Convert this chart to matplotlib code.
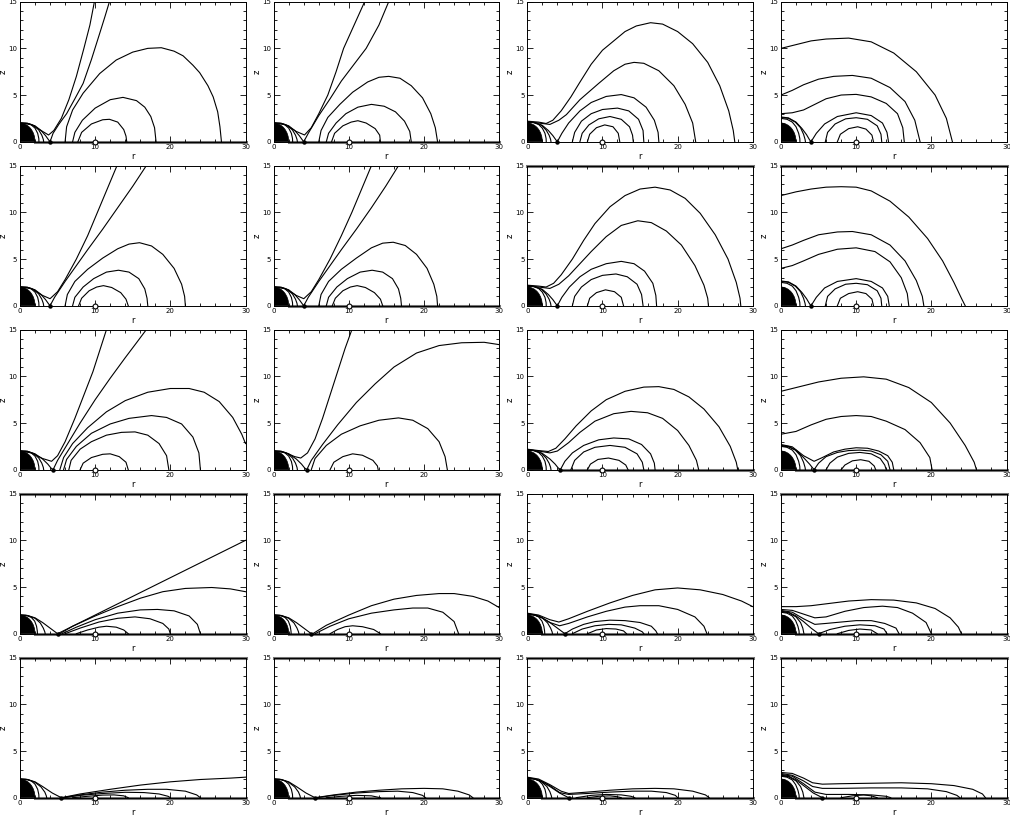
import matplotlib
matplotlib.use("Agg")
import matplotlib.pyplot as plt
from matplotlib.patches import Wedge
from matplotlib.ticker import MultipleLocator

star_radius = 2.0
torus_r = 10.0
xpoint_r = [4.0, 4.0, 4.4, 5.0, 5.5]  # one per row

# field lines: each panel is a list of lines, each line a list of (r, z) points
p11 = [
    [(0, 2.0), (0.8, 1.97), (1.5, 1.8), (2.0, 1.45), (2.35, 0.9), (2.5, 0.35), (2.52, 0)],
    [(0, 2.0), (1.0, 1.97), (1.9, 1.7), (2.5, 1.25), (2.9, 0.7), (3.1, 0.25), (3.15, 0)],
    [(0, 2.0), (1.0, 1.97), (2.0, 1.7), (2.8, 1.2), (3.4, 0.65), (3.8, 0.2), (4.0, 0)],
    [(0, 2.0), (1.5, 1.85), (2.8, 1.2), (3.8, 0.72), (4.5, 1.2), (5.5, 2.5), (6.5, 4.5), (7.5, 7.0), (8.5, 10.0), (9.3, 12.5), (9.9, 15)],
    [(4.0, 0), (4.4, 0.9), (5.2, 1.9), (6.2, 3.0), (7.3, 4.6), (8.4, 6.25), (9.5, 8.8), (10.6, 11.6), (11.3, 13.4), (11.9, 15)],
    [(6.0, 0), (6.2, 1.6), (7.0, 3.4), (8.4, 5.2), (10.6, 7.3), (12.8, 8.75), (15.0, 9.6), (17.0, 10.0), (18.8, 10.07), (20.5, 9.7), (21.7, 9.2), (23.0, 8.2), (23.9, 7.4), (25.0, 6.0), (25.7, 4.8), (26.3, 3.2), (26.6, 1.6), (26.8, 0)],
    [(7.0, 0), (7.3, 1.0), (8.3, 2.3), (10.0, 3.6), (12.0, 4.5), (13.7, 4.75), (15.5, 4.4), (16.6, 3.7), (17.4, 2.7), (17.9, 1.5), (18.1, 0)],
    [(7.7, 0), (8.2, 1.0), (9.5, 1.9), (11.0, 2.35), (11.9, 2.4), (13.0, 2.1), (13.8, 1.3), (14.1, 0.6), (14.2, 0)],
]
p12 = [
    [(0, 2.0), (0.8, 1.97), (1.5, 1.8), (2.0, 1.45), (2.35, 0.9), (2.5, 0.35), (2.52, 0)],
    [(0, 2.0), (1.0, 1.97), (1.9, 1.7), (2.5, 1.25), (2.9, 0.7), (3.1, 0.25), (3.15, 0)],
    [(0, 2.0), (1.0, 1.97), (2.0, 1.7), (2.8, 1.2), (3.4, 0.65), (3.8, 0.2), (4.0, 0)],
    [(0, 2.0), (1.5, 1.85), (3.0, 1.1), (4.1, 0.72), (5.0, 1.5), (6.0, 3.0), (7.2, 5.0), (8.3, 7.5), (9.3, 10.0), (10.7, 12.5), (12.1, 15)],
    [(4.0, 0), (4.6, 0.9), (6.0, 2.8), (7.5, 4.6), (9.0, 6.5), (10.6, 8.2), (12.3, 10.0), (14.0, 12.5), (15.3, 15)],
    [(6.0, 0), (6.3, 1.2), (7.2, 2.6), (8.8, 4.0), (10.5, 5.3), (12.5, 6.4), (14.0, 6.9), (15.3, 7.0), (16.8, 6.8), (18.3, 6.0), (19.8, 4.7), (20.9, 3.0), (21.5, 1.5), (21.8, 0)],
    [(7.0, 0), (7.3, 0.9), (8.3, 2.0), (9.6, 3.0), (11.2, 3.7), (13.0, 4.0), (14.7, 3.8), (16.2, 3.2), (17.4, 2.2), (18.1, 1.1), (18.3, 0)],
    [(7.7, 0), (8.1, 0.9), (9.2, 1.7), (10.3, 2.1), (11.2, 2.25), (12.3, 2.0), (13.5, 1.4), (14.1, 0.7), (14.2, 0)],
]
p13 = [
    [(0, 2.1), (0.8, 2.05), (1.5, 1.85), (2.0, 1.45), (2.35, 0.9), (2.5, 0.35), (2.52, 0)],
    [(0, 2.1), (1.0, 2.05), (1.9, 1.75), (2.5, 1.25), (2.9, 0.7), (3.1, 0.25), (3.15, 0)],
    [(0, 2.1), (1.0, 2.05), (2.0, 1.75), (2.8, 1.2), (3.4, 0.65), (3.8, 0.2), (4.0, 0)],
    [(0, 2.2), (1.5, 2.1), (2.5, 1.95), (3.4, 2.3), (4.5, 3.3), (5.8, 4.8), (6.9, 6.25), (8.5, 8.3), (10.0, 9.8), (11.2, 10.6), (13.0, 11.8), (14.5, 12.4), (16.4, 12.75), (18.0, 12.6), (20.0, 11.8), (22.0, 10.5), (24.0, 8.5), (25.6, 6.0), (26.8, 3.3), (27.4, 1.2), (27.6, 0)],
    [(0, 2.15), (1.5, 2.0), (3.0, 1.85), (4.2, 2.3), (5.2, 2.9), (7.0, 4.5), (9.5, 6.25), (11.5, 7.6), (13.0, 8.3), (14.2, 8.5), (15.5, 8.4), (17.5, 7.6), (19.5, 6.0), (21.0, 4.0), (22.0, 2.0), (22.4, 0)],
    [(4.0, 0), (4.6, 0.9), (5.5, 2.0), (7.0, 3.3), (8.5, 4.2), (10.5, 4.85), (12.5, 5.05), (14.2, 4.7), (15.8, 3.7), (16.9, 2.3), (17.4, 1.0), (17.5, 0)],
    [(6.0, 0), (6.3, 1.0), (7.2, 2.2), (8.5, 3.0), (10.0, 3.45), (12.0, 3.6), (13.5, 3.3), (14.8, 2.4), (15.4, 1.2), (15.5, 0)],
    [(7.0, 0), (7.3, 0.9), (8.2, 1.8), (9.5, 2.45), (11.0, 2.7), (12.5, 2.4), (13.6, 1.6), (14.0, 0.7), (14.1, 0)],
    [(8.0, 0), (8.3, 0.8), (9.2, 1.5), (10.3, 1.8), (11.4, 1.6), (12.1, 0.9), (12.3, 0)],
]
p14 = [
    [(0, 2.5), (0.8, 2.4), (1.5, 2.1), (2.0, 1.6), (2.35, 0.9), (2.5, 0.35), (2.52, 0)],
    [(0, 2.6), (1.0, 2.5), (1.9, 2.1), (2.6, 1.5), (3.0, 0.8), (3.2, 0.25), (3.25, 0)],
    [(0, 2.65), (1.0, 2.55), (2.0, 2.1), (2.8, 1.4), (3.4, 0.75), (3.8, 0.2), (4.0, 0)],
    [(0, 10.0), (2.0, 10.4), (4.0, 10.8), (6.0, 11.0), (9.0, 11.1), (12.0, 10.7), (15.0, 9.5), (18.0, 7.5), (20.5, 5.0), (22.0, 2.5), (22.8, 0)],
    [(0, 5.0), (1.5, 5.5), (3.0, 6.1), (5.0, 6.7), (7.0, 7.0), (9.5, 7.1), (12.0, 6.8), (14.5, 5.8), (16.5, 4.3), (17.8, 2.3), (18.5, 0)],
    [(0, 3.0), (1.5, 3.1), (3.0, 3.4), (4.5, 4.0), (6.0, 4.6), (8.0, 5.0), (10.0, 5.07), (12.0, 4.8), (14.0, 4.1), (15.5, 3.0), (16.2, 1.5), (16.4, 0)],
    [(4.0, 0), (4.7, 0.9), (5.8, 1.9), (7.5, 2.7), (10.0, 3.1), (12.0, 2.8), (13.5, 2.0), (14.1, 1.0), (14.3, 0)],
    [(5.9, 0), (6.2, 1.0), (7.2, 1.9), (8.6, 2.45), (10.0, 2.57), (11.5, 2.4), (12.8, 1.7), (13.3, 0.8), (13.4, 0)],
    [(7.5, 0), (7.9, 0.8), (9.0, 1.4), (10.2, 1.6), (11.3, 1.35), (12.1, 0.7), (12.3, 0)],
]
p21 = [
    [(0, 2.0), (0.8, 1.97), (1.5, 1.8), (2.0, 1.45), (2.35, 0.9), (2.5, 0.35), (2.52, 0)],
    [(0, 2.0), (1.0, 1.97), (1.9, 1.7), (2.5, 1.25), (2.9, 0.7), (3.1, 0.25), (3.15, 0)],
    [(0, 2.0), (1.0, 1.97), (2.0, 1.7), (2.8, 1.2), (3.4, 0.65), (3.8, 0.2), (4.0, 0)],
    [(0, 2.0), (1.5, 1.85), (3.0, 1.1), (4.0, 0.75), (5.0, 1.5), (6.0, 2.8), (7.5, 5.0), (9.0, 7.5), (10.3, 10.0), (11.6, 12.5), (12.9, 15)],
    [(4.0, 0), (4.6, 0.9), (6.0, 2.6), (7.5, 4.3), (9.0, 6.0), (11.0, 8.2), (13.0, 10.5), (15.0, 12.8), (16.8, 15)],
    [(6.0, 0), (6.3, 1.2), (7.3, 2.6), (9.0, 3.9), (11.0, 5.1), (13.0, 6.1), (14.5, 6.6), (15.9, 6.75), (17.5, 6.4), (19.0, 5.5), (20.5, 4.0), (21.5, 2.3), (21.9, 1.0), (22.0, 0)],
    [(7.0, 0), (7.3, 0.9), (8.4, 2.0), (9.8, 2.9), (11.5, 3.6), (13.1, 3.8), (14.5, 3.6), (15.8, 2.9), (16.6, 1.8), (16.9, 0.8), (17.0, 0)],
    [(7.8, 0), (8.2, 0.8), (9.2, 1.6), (10.2, 2.0), (11.1, 2.15), (12.2, 1.95), (13.4, 1.4), (14.1, 0.7), (14.4, 0)],
]
p22 = [
    [(0, 2.0), (0.8, 1.97), (1.5, 1.8), (2.0, 1.45), (2.35, 0.9), (2.5, 0.35), (2.52, 0)],
    [(0, 2.0), (1.0, 1.97), (1.9, 1.7), (2.5, 1.25), (2.9, 0.7), (3.1, 0.25), (3.15, 0)],
    [(0, 2.0), (1.0, 1.97), (2.0, 1.7), (2.8, 1.2), (3.4, 0.65), (3.8, 0.2), (4.0, 0)],
    [(0, 2.0), (1.5, 1.85), (3.0, 1.1), (4.0, 0.75), (5.0, 1.5), (6.0, 2.8), (7.5, 5.0), (9.0, 7.5), (10.4, 10.0), (11.7, 12.5), (13.0, 15)],
    [(4.0, 0), (4.6, 0.9), (6.0, 2.6), (7.5, 4.3), (9.0, 6.0), (11.0, 8.2), (13.0, 10.5), (14.9, 12.8), (16.6, 15)],
    [(6.0, 0), (6.3, 1.2), (7.3, 2.6), (9.0, 3.9), (11.0, 5.1), (13.0, 6.2), (14.5, 6.7), (15.9, 6.8), (17.5, 6.45), (19.0, 5.5), (20.4, 4.0), (21.3, 2.3), (21.7, 1.0), (21.8, 0)],
    [(7.0, 0), (7.3, 0.9), (8.4, 2.0), (9.8, 2.9), (11.5, 3.6), (13.1, 3.8), (14.5, 3.6), (15.8, 2.9), (16.6, 1.8), (16.9, 0.8), (17.0, 0)],
    [(7.8, 0), (8.2, 0.8), (9.2, 1.6), (10.2, 2.0), (11.1, 2.15), (12.2, 1.95), (13.4, 1.4), (14.2, 0.7), (14.5, 0)],
]
p23 = [
    [(0, 2.1), (0.8, 2.05), (1.5, 1.85), (2.0, 1.45), (2.35, 0.9), (2.5, 0.35), (2.52, 0)],
    [(0, 2.1), (1.0, 2.05), (1.9, 1.75), (2.5, 1.25), (2.9, 0.7), (3.1, 0.25), (3.15, 0)],
    [(0, 2.1), (1.0, 2.05), (2.0, 1.75), (2.8, 1.2), (3.4, 0.65), (3.8, 0.2), (4.0, 0)],
    [(0, 2.2), (1.5, 2.1), (2.5, 2.0), (3.5, 2.4), (4.5, 3.3), (6.0, 5.0), (7.5, 7.0), (9.0, 8.8), (11.0, 10.6), (13.0, 11.8), (15.0, 12.5), (17.0, 12.7), (19.0, 12.4), (21.0, 11.5), (23.0, 9.9), (25.0, 7.6), (26.7, 5.0), (27.8, 2.5), (28.3, 0.8), (28.4, 0)],
    [(0, 2.15), (1.5, 2.0), (3.0, 1.85), (4.2, 2.3), (5.5, 3.2), (7.0, 4.5), (8.5, 5.8), (10.5, 7.4), (12.5, 8.6), (14.7, 9.1), (16.5, 8.9), (18.5, 8.0), (20.5, 6.5), (22.3, 4.3), (23.5, 2.2), (24.0, 0.8), (24.1, 0)],
    [(4.0, 0), (4.6, 0.9), (5.6, 2.0), (7.0, 3.1), (8.5, 3.9), (10.5, 4.5), (12.5, 4.75), (14.2, 4.5), (15.6, 3.7), (16.7, 2.4), (17.1, 1.1), (17.2, 0)],
    [(6.0, 0), (6.3, 1.0), (7.2, 2.0), (8.5, 2.8), (10.0, 3.25), (11.8, 3.4), (13.3, 3.1), (14.6, 2.3), (15.2, 1.2), (15.4, 0)],
    [(8.0, 0), (8.3, 0.8), (9.2, 1.4), (10.4, 1.7), (11.6, 1.5), (12.5, 0.9), (12.8, 0)],
]
p24 = [
    [(0, 2.5), (0.8, 2.4), (1.5, 2.1), (2.0, 1.6), (2.35, 0.9), (2.5, 0.35), (2.52, 0)],
    [(0, 2.6), (1.0, 2.5), (1.9, 2.1), (2.6, 1.5), (3.0, 0.8), (3.2, 0.25), (3.25, 0)],
    [(0, 2.65), (1.0, 2.55), (2.0, 2.1), (2.8, 1.4), (3.4, 0.75), (3.8, 0.2), (4.0, 0)],
    [(0, 11.8), (2.0, 12.2), (4.0, 12.5), (6.0, 12.7), (8.0, 12.75), (10.0, 12.7), (12.0, 12.3), (14.5, 11.2), (17.0, 9.5), (19.5, 7.2), (21.5, 4.8), (23.0, 2.5), (24.0, 0.8), (24.5, 0)],
    [(0, 6.1), (1.5, 6.5), (3.0, 7.0), (5.0, 7.6), (7.5, 7.9), (9.5, 7.95), (12.0, 7.6), (14.5, 6.5), (16.5, 4.8), (18.0, 2.7), (18.8, 1.0), (19.0, 0)],
    [(0, 4.0), (1.5, 4.3), (3.0, 4.8), (5.0, 5.5), (7.5, 6.05), (10.0, 6.2), (12.5, 5.8), (14.5, 4.7), (16.0, 3.0), (16.8, 1.3), (17.0, 0)],
    [(4.0, 0), (4.7, 0.9), (5.8, 1.9), (7.5, 2.6), (10.0, 2.9), (12.0, 2.6), (13.5, 1.9), (14.2, 1.0), (14.4, 0)],
    [(5.9, 0), (6.2, 1.0), (7.2, 1.8), (8.6, 2.3), (10.0, 2.4), (11.5, 2.25), (12.8, 1.6), (13.3, 0.8), (13.4, 0)],
    [(7.5, 0), (7.9, 0.8), (9.0, 1.3), (10.2, 1.5), (11.3, 1.3), (12.1, 0.7), (12.3, 0)],
]
p31 = [
    [(0, 2.0), (0.8, 1.97), (1.5, 1.8), (2.0, 1.45), (2.35, 0.9), (2.5, 0.35), (2.52, 0)],
    [(0, 2.0), (1.0, 1.97), (1.9, 1.7), (2.5, 1.25), (2.9, 0.7), (3.1, 0.25), (3.15, 0)],
    [(0, 2.0), (1.0, 1.97), (2.0, 1.7), (3.0, 1.15), (3.7, 0.6), (4.1, 0.2), (4.4, 0)],
    [(0, 2.0), (1.5, 1.8), (3.0, 1.2), (4.2, 0.9), (5.0, 1.5), (6.0, 3.0), (7.3, 5.5), (8.5, 8.0), (9.7, 10.5), (10.7, 13.0), (11.5, 15)],
    [(4.4, 0), (5.0, 1.0), (6.5, 3.0), (8.0, 5.0), (10.0, 7.5), (12.0, 9.8), (14.0, 12.0), (15.5, 13.6), (16.8, 15)],
    [(5.3, 0), (5.8, 1.3), (7.0, 2.8), (9.0, 4.5), (11.5, 6.2), (14.0, 7.4), (17.0, 8.3), (20.0, 8.7), (22.5, 8.7), (24.5, 8.3), (26.5, 7.3), (28.3, 5.6), (29.5, 3.8), (30.0, 2.8)],
    [(5.8, 0), (6.2, 1.1), (7.5, 2.5), (9.5, 3.9), (12.0, 4.9), (14.5, 5.5), (17.5, 5.8), (19.5, 5.6), (21.5, 4.9), (23.0, 3.5), (23.8, 1.8), (24.0, 0)],
    [(6.5, 0), (6.8, 1.0), (8.0, 2.2), (9.5, 3.0), (11.5, 3.7), (13.5, 4.0), (15.3, 4.05), (17.0, 3.7), (18.5, 2.8), (19.5, 1.5), (19.8, 0)],
    [(8.0, 0), (8.4, 0.7), (9.5, 1.3), (11.0, 1.65), (12.0, 1.7), (13.2, 1.4), (14.1, 0.8), (14.4, 0)],
]
p32 = [
    [(0, 2.0), (0.8, 1.97), (1.5, 1.8), (2.0, 1.45), (2.35, 0.9), (2.5, 0.35), (2.52, 0)],
    [(0, 2.0), (1.0, 1.97), (1.9, 1.7), (2.5, 1.25), (2.9, 0.7), (3.1, 0.25), (3.15, 0)],
    [(0, 2.0), (1.0, 1.97), (2.0, 1.7), (3.0, 1.15), (3.7, 0.6), (4.1, 0.2), (4.4, 0)],
    [(0, 2.0), (1.5, 1.85), (2.8, 1.4), (3.6, 1.25), (4.5, 1.8), (5.5, 3.3), (6.5, 5.5), (7.5, 8.0), (8.5, 10.5), (9.5, 13.0), (10.4, 15)],
    [(4.4, 0), (5.0, 1.0), (6.5, 2.7), (8.5, 4.8), (11.0, 7.2), (13.5, 9.2), (16.0, 11.0), (19.0, 12.5), (22.0, 13.3), (25.0, 13.6), (28.0, 13.65), (30.0, 13.4)],
    [(5.0, 0), (5.5, 1.2), (7.0, 2.6), (9.0, 3.8), (11.5, 4.7), (14.0, 5.3), (16.6, 5.55), (18.5, 5.3), (20.5, 4.4), (22.0, 3.0), (22.8, 1.4), (23.1, 0)],
    [(7.5, 0), (8.0, 0.8), (9.2, 1.4), (10.5, 1.7), (11.8, 1.55), (13.2, 1.0), (13.8, 0.4), (13.9, 0)],
]
p33 = [
    [(0, 2.1), (0.8, 2.05), (1.5, 1.85), (2.0, 1.45), (2.35, 0.9), (2.5, 0.35), (2.52, 0)],
    [(0, 2.1), (1.0, 2.05), (1.9, 1.75), (2.5, 1.25), (2.9, 0.7), (3.1, 0.25), (3.15, 0)],
    [(0, 2.1), (1.0, 2.05), (2.0, 1.75), (3.0, 1.15), (3.7, 0.6), (4.1, 0.2), (4.4, 0)],
    [(0, 2.2), (1.5, 2.05), (2.8, 1.95), (3.8, 2.3), (5.0, 3.3), (6.5, 4.7), (8.5, 6.3), (10.5, 7.5), (13.0, 8.4), (15.5, 8.85), (17.5, 8.9), (19.5, 8.6), (21.5, 7.8), (23.5, 6.5), (25.5, 4.6), (27.0, 2.5), (27.8, 0.8), (28.0, 0)],
    [(0, 2.15), (1.5, 2.0), (3.0, 1.8), (4.0, 2.0), (5.5, 2.9), (7.0, 4.0), (9.0, 5.2), (11.5, 6.0), (13.8, 6.25), (16.0, 6.1), (18.0, 5.5), (20.0, 4.2), (21.5, 2.6), (22.5, 1.0), (22.8, 0)],
    [(4.4, 0), (5.0, 0.9), (6.0, 1.8), (7.5, 2.6), (9.5, 3.2), (11.5, 3.4), (13.5, 3.3), (15.2, 2.7), (16.4, 1.7), (16.9, 0.7), (17.0, 0)],
    [(5.8, 0), (6.3, 1.0), (7.5, 1.9), (9.0, 2.4), (11.0, 2.6), (13.0, 2.4), (14.6, 1.7), (15.3, 0.8), (15.5, 0)],
    [(8.0, 0), (8.4, 0.6), (9.4, 1.1), (10.8, 1.25), (12.2, 1.0), (13.1, 0.5), (13.4, 0)],
]
p34 = [
    [(0, 2.5), (0.8, 2.4), (1.5, 2.1), (2.0, 1.6), (2.35, 0.9), (2.5, 0.35), (2.52, 0)],
    [(0, 2.55), (1.0, 2.45), (1.9, 2.1), (2.6, 1.5), (3.0, 0.8), (3.2, 0.25), (3.25, 0)],
    [(0, 2.6), (1.0, 2.5), (2.0, 2.1), (3.0, 1.3), (3.8, 0.6), (4.2, 0.2), (4.4, 0)],
    [(0, 8.4), (2.0, 8.8), (5.0, 9.4), (8.0, 9.8), (11.0, 9.95), (14.0, 9.7), (17.0, 8.8), (20.0, 7.2), (22.5, 5.0), (24.5, 2.6), (25.7, 0.8), (26.0, 0)],
    [(0, 3.8), (2.0, 4.1), (4.0, 4.8), (6.0, 5.4), (8.0, 5.7), (10.0, 5.8), (12.0, 5.7), (14.0, 5.2), (16.5, 4.3), (18.5, 2.9), (19.8, 1.3), (20.1, 0)],
    [(0, 2.7), (1.5, 2.45), (3.0, 1.5), (4.4, 0.9), (5.5, 1.3), (7.0, 1.9), (8.5, 2.2), (10.0, 2.35), (11.5, 2.3), (13.0, 2.0), (14.2, 1.5), (14.8, 0.8), (15.0, 0)],
    [(4.4, 0), (5.0, 0.7), (6.0, 1.4), (7.5, 1.85), (9.0, 2.05), (10.5, 2.1), (12.0, 2.0), (13.3, 1.6), (14.2, 0.9), (14.5, 0)],
    [(6.0, 0), (6.5, 0.7), (7.5, 1.35), (9.0, 1.75), (10.5, 1.85), (12.0, 1.7), (13.2, 1.2), (13.8, 0.5), (14.0, 0)],
    [(8.0, 0), (8.5, 0.5), (9.5, 0.95), (10.6, 1.07), (11.7, 0.9), (12.4, 0.4), (12.6, 0)],
]
p41 = [
    [(0, 2.0), (0.8, 1.97), (1.5, 1.75), (1.95, 1.35), (2.2, 0.8), (2.3, 0.3), (2.32, 0)],
    [(0, 2.0), (1.0, 1.95), (2.0, 1.65), (2.7, 1.15), (3.1, 0.6), (3.3, 0.2), (3.35, 0)],
    [(0, 2.0), (1.0, 1.95), (2.0, 1.7), (3.0, 1.2), (4.0, 0.6), (5.0, 0)],
    [(5.0, 0), (30.0, 10.0)],
    [(5.3, 0), (7.0, 0.8), (10.0, 1.9), (13.0, 2.9), (16.0, 3.8), (19.0, 4.5), (22.0, 4.85), (25.5, 4.95), (28.0, 4.8), (30.0, 4.5)],
    [(5.6, 0), (7.5, 0.7), (10.0, 1.5), (13.0, 2.2), (16.0, 2.55), (18.3, 2.6), (20.5, 2.45), (22.5, 1.9), (23.6, 1.0), (24.0, 0)],
    [(6.0, 0), (8.0, 0.6), (10.5, 1.25), (13.0, 1.65), (15.3, 1.8), (17.3, 1.6), (19.0, 1.1), (19.8, 0.5), (20.0, 0)],
    [(7.5, 0), (9.0, 0.4), (10.5, 0.7), (11.5, 0.8), (12.8, 0.7), (13.8, 0.4), (14.4, 0)],
]
p42 = [
    [(0, 2.0), (0.8, 1.97), (1.5, 1.75), (1.95, 1.35), (2.2, 0.8), (2.3, 0.3), (2.32, 0)],
    [(0, 2.0), (1.0, 1.95), (2.0, 1.65), (2.7, 1.15), (3.1, 0.6), (3.3, 0.2), (3.35, 0)],
    [(0, 2.0), (1.0, 1.95), (2.0, 1.7), (3.0, 1.2), (4.0, 0.6), (5.0, 0)],
    [(5.2, 0), (7.0, 0.9), (10.0, 2.0), (13.0, 3.0), (16.0, 3.7), (19.0, 4.1), (22.0, 4.3), (24.0, 4.3), (26.5, 4.0), (28.5, 3.5), (30.0, 2.8)],
    [(5.5, 0), (7.5, 0.8), (10.0, 1.6), (13.0, 2.2), (16.0, 2.55), (18.5, 2.75), (20.5, 2.75), (22.5, 2.3), (24.0, 1.3), (24.6, 0)],
    [(7.5, 0), (8.5, 0.45), (9.5, 0.75), (10.5, 0.85), (11.8, 0.75), (13.3, 0.45), (14.2, 0)],
]
p43 = [
    [(0, 2.1), (0.8, 2.05), (1.5, 1.8), (1.95, 1.35), (2.2, 0.8), (2.3, 0.3), (2.32, 0)],
    [(0, 2.1), (1.0, 2.0), (2.0, 1.7), (2.7, 1.15), (3.1, 0.6), (3.3, 0.2), (3.35, 0)],
    [(0, 2.1), (1.0, 2.0), (2.0, 1.7), (3.0, 1.2), (4.0, 0.6), (5.0, 0)],
    [(0, 2.2), (1.5, 2.0), (3.0, 1.5), (4.2, 1.25), (5.5, 1.6), (8.0, 2.4), (11.0, 3.3), (14.0, 4.1), (17.0, 4.7), (20.0, 4.9), (23.0, 4.7), (26.0, 4.2), (28.5, 3.5), (30.0, 2.9)],
    [(0, 2.15), (1.5, 1.9), (3.0, 1.2), (4.3, 0.85), (5.5, 1.1), (8.0, 1.8), (10.5, 2.4), (13.0, 2.85), (15.0, 3.0), (17.5, 3.0), (20.0, 2.6), (22.3, 1.8), (23.5, 0.8), (23.9, 0)],
    [(5.0, 0), (6.0, 0.5), (7.5, 1.0), (9.0, 1.3), (11.0, 1.45), (13.0, 1.4), (15.0, 1.2), (16.5, 0.8), (17.1, 0.3), (17.3, 0)],
    [(6.0, 0), (7.3, 0.5), (9.0, 0.85), (10.8, 1.0), (12.5, 0.95), (14.3, 0.6), (15.3, 0.2), (15.5, 0)],
    [(8.0, 0), (9.2, 0.4), (10.5, 0.55), (11.8, 0.5), (12.8, 0.3), (13.2, 0)],
]
p44 = [
    [(0, 2.3), (0.8, 2.2), (1.5, 1.9), (1.95, 1.4), (2.25, 0.8), (2.4, 0.3), (2.42, 0)],
    [(0, 2.35), (1.0, 2.25), (2.0, 1.8), (2.6, 1.2), (2.9, 0.6), (3.0, 0.2), (3.05, 0)],
    [(0, 2.4), (1.0, 2.3), (2.0, 1.9), (3.0, 1.3), (4.0, 0.6), (5.0, 0)],
    [(0, 2.9), (2.0, 2.9), (4.0, 3.0), (6.0, 3.2), (9.0, 3.5), (12.0, 3.65), (15.0, 3.6), (18.0, 3.3), (20.5, 2.7), (22.5, 1.7), (23.6, 0.7), (24.0, 0)],
    [(0, 2.6), (1.5, 2.5), (3.0, 2.1), (4.5, 1.7), (6.0, 1.8), (8.5, 2.4), (11.0, 2.8), (13.5, 2.95), (15.5, 2.8), (17.5, 2.2), (19.3, 1.2), (20.0, 0)],
    [(0, 2.5), (1.5, 2.3), (3.0, 1.6), (4.5, 1.0), (6.0, 1.1), (8.0, 1.25), (10.0, 1.4), (12.0, 1.4), (13.8, 1.1), (15.3, 0.6), (15.7, 0)],
    [(5.0, 0), (6.5, 0.45), (8.5, 0.8), (10.5, 0.95), (12.5, 0.85), (13.7, 0.5), (14.1, 0)],
    [(7.5, 0), (9.0, 0.35), (10.5, 0.5), (12.0, 0.4), (12.8, 0)],
]
p51 = [
    [(0, 2.0), (0.8, 1.97), (1.5, 1.8), (2.0, 1.45), (2.35, 0.9), (2.5, 0.35), (2.52, 0)],
    [(0, 2.0), (1.0, 1.95), (2.0, 1.65), (2.8, 1.15), (3.3, 0.6), (3.5, 0.2), (3.55, 0)],
    [(0, 2.0), (1.0, 1.95), (2.0, 1.7), (3.0, 1.2), (4.3, 0.5), (5.5, 0)],
    [(5.5, 0), (8.0, 0.4), (12.0, 0.9), (16.0, 1.35), (20.0, 1.7), (24.0, 1.95), (28.0, 2.1), (30.0, 2.2)],
    [(5.6, 0), (8.0, 0.3), (11.0, 0.6), (14.0, 0.8), (17.0, 0.9), (19.5, 0.9), (22.0, 0.7), (23.5, 0.3), (24.0, 0)],
    [(5.8, 0), (8.0, 0.25), (11.0, 0.45), (14.0, 0.58), (16.5, 0.55), (18.5, 0.4), (19.7, 0.15), (20.0, 0)],
    [(7.0, 0), (9.0, 0.15), (11.0, 0.28), (12.5, 0.3), (13.8, 0.2), (14.4, 0)],
]
p52 = [
    [(0, 2.0), (0.8, 1.97), (1.5, 1.8), (2.0, 1.45), (2.35, 0.9), (2.5, 0.35), (2.52, 0)],
    [(0, 2.0), (1.0, 1.95), (2.0, 1.65), (2.8, 1.15), (3.3, 0.6), (3.5, 0.2), (3.55, 0)],
    [(0, 2.0), (1.0, 1.95), (2.0, 1.7), (3.0, 1.2), (4.3, 0.5), (5.5, 0)],
    [(5.5, 0), (8.0, 0.3), (11.0, 0.6), (14.0, 0.8), (17.0, 0.95), (20.0, 1.0), (22.5, 0.95), (24.5, 0.7), (26.0, 0.3), (26.5, 0)],
    [(5.7, 0), (8.0, 0.25), (11.0, 0.5), (14.0, 0.65), (16.5, 0.7), (18.5, 0.55), (19.8, 0.25), (20.2, 0)],
    [(7.0, 0), (9.0, 0.15), (11.0, 0.25), (13.0, 0.2), (14.2, 0)],
]
p53 = [
    [(0, 2.1), (0.8, 2.05), (1.5, 1.85), (2.0, 1.45), (2.35, 0.9), (2.5, 0.35), (2.52, 0)],
    [(0, 2.1), (1.0, 2.0), (1.9, 1.7), (2.6, 1.2), (3.0, 0.65), (3.2, 0.2), (3.25, 0)],
    [(0, 2.1), (1.0, 2.0), (2.0, 1.7), (3.0, 1.2), (4.3, 0.5), (5.5, 0)],
    [(0, 2.2), (1.5, 2.0), (3.0, 1.4), (4.5, 0.7), (5.5, 0.45), (8.0, 0.6), (11.0, 0.8), (14.0, 0.95), (17.0, 1.0), (19.5, 0.95), (22.0, 0.7), (23.7, 0.3), (24.2, 0)],
    [(0, 2.15), (1.5, 1.9), (3.0, 1.3), (4.3, 0.55), (5.5, 0.35), (8.0, 0.45), (11.0, 0.6), (14.0, 0.7), (16.5, 0.7), (18.5, 0.55), (19.7, 0.25), (20.0, 0)],
    [(6.5, 0), (8.5, 0.25), (10.5, 0.35), (12.5, 0.3), (13.8, 0.15), (14.3, 0)],
    [(8.0, 0), (9.5, 0.15), (11.0, 0.2), (12.0, 0.1), (12.5, 0)],
]
p54 = [
    [(0, 2.3), (0.8, 2.2), (1.5, 1.9), (1.95, 1.4), (2.25, 0.8), (2.4, 0.3), (2.42, 0)],
    [(0, 2.35), (1.0, 2.25), (2.0, 1.8), (2.6, 1.2), (2.9, 0.6), (3.0, 0.2), (3.05, 0)],
    [(0, 2.4), (1.0, 2.3), (2.0, 1.9), (3.0, 1.3), (4.3, 0.5), (5.5, 0)],
    [(0, 2.7), (1.5, 2.6), (3.0, 2.1), (4.2, 1.6), (5.5, 1.45), (8.0, 1.5), (12.0, 1.55), (16.0, 1.6), (20.0, 1.5), (23.0, 1.3), (25.5, 0.9), (26.8, 0.4), (27.2, 0)],
    [(0, 2.6), (1.5, 2.4), (3.0, 1.8), (4.2, 1.2), (5.5, 1.0), (8.0, 1.0), (12.0, 1.05), (16.0, 1.05), (19.5, 0.95), (22.0, 0.65), (23.4, 0.25), (23.8, 0)],
    [(0, 2.5), (1.5, 2.3), (3.0, 1.5), (4.5, 0.6), (6.0, 0.35), (9.0, 0.35), (12.0, 0.3), (14.0, 0.15), (14.6, 0)],
    [(8.0, 0), (9.5, 0.2), (11.0, 0.3), (12.0, 0.2), (12.8, 0)],
]

panels = [
    [p11, p12, p13, p14],
    [p21, p22, p23, p24],
    [p31, p32, p33, p34],
    [p41, p42, p43, p44],
    [p51, p52, p53, p54],
]
# r where a dense equatorial bundle starts (None = none), and panels whose top edge is crowded
equator_start = [
    [2.0, 2.0, None, None],
    [None, 2.0, None, None],
    [None, None, 4.4, 2.0],
    [2.0, 2.0, 2.0, 2.0],
    [2.0, 2.0, 2.0, 2.0],
]
top_bundle = [
    [False, False, False, False],
    [False, False, True, True],
    [False, False, False, False],
    [True, True, False, True],
    [True, True, True, True],
]

fig = plt.figure(figsize=(10.10, 8.18), dpi=100)
W, H = 1010.0, 818.0
col_left = [20, 273.7, 527.3, 781]
row_bottom = [141.7, 305.7, 469.7, 633.7, 797.7]
ax_w, ax_h = 225.5, 140.0

for i in range(5):
    for j in range(4):
        ax = fig.add_axes([col_left[j] / W, 1 - row_bottom[i] / H, ax_w / W, ax_h / H])
        ax.add_patch(Wedge((0, 0), star_radius, 0, 90, facecolor="black", edgecolor="black", lw=0.5, zorder=3))
        for line in panels[i][j]:
            r = [p[0] for p in line]
            z = [p[1] for p in line]
            ax.plot(r, z, color="black", lw=0.8, zorder=2)
        if equator_start[i][j] is not None:
            ax.plot([equator_start[i][j], 30], [0, 0], color="0.45", lw=2.2, zorder=1, clip_on=False)
        if top_bundle[i][j]:
            ax.plot([0, 30], [15, 15], color="0.45", lw=2.2, zorder=1, clip_on=False)
        ax.plot([xpoint_r[i]], [0], marker="o", ms=2.2, color="black", zorder=4, clip_on=False)
        ax.plot([torus_r], [0], marker="o", ms=3.5, mfc="white", mec="black", mew=0.8, zorder=4, clip_on=False)

        ax.set_xlim(0, 30)
        ax.set_ylim(0, 15)
        ax.xaxis.set_major_locator(MultipleLocator(10))
        ax.xaxis.set_minor_locator(MultipleLocator(2))
        ax.yaxis.set_major_locator(MultipleLocator(5))
        ax.yaxis.set_minor_locator(MultipleLocator(1))
        ax.tick_params(which="both", direction="in", top=True, right=True, labelsize=5, pad=2, width=0.6)
        ax.tick_params(which="major", length=4)
        ax.tick_params(which="minor", length=2)
        for s in ax.spines.values():
            s.set_linewidth(0.7)
        ax.set_xlabel("r", fontsize=6, labelpad=1)
        ax.set_ylabel("z", fontsize=6)
        ax.yaxis.set_label_coords(-0.055, 0.5)

fig.savefig("out.png", dpi=100)
